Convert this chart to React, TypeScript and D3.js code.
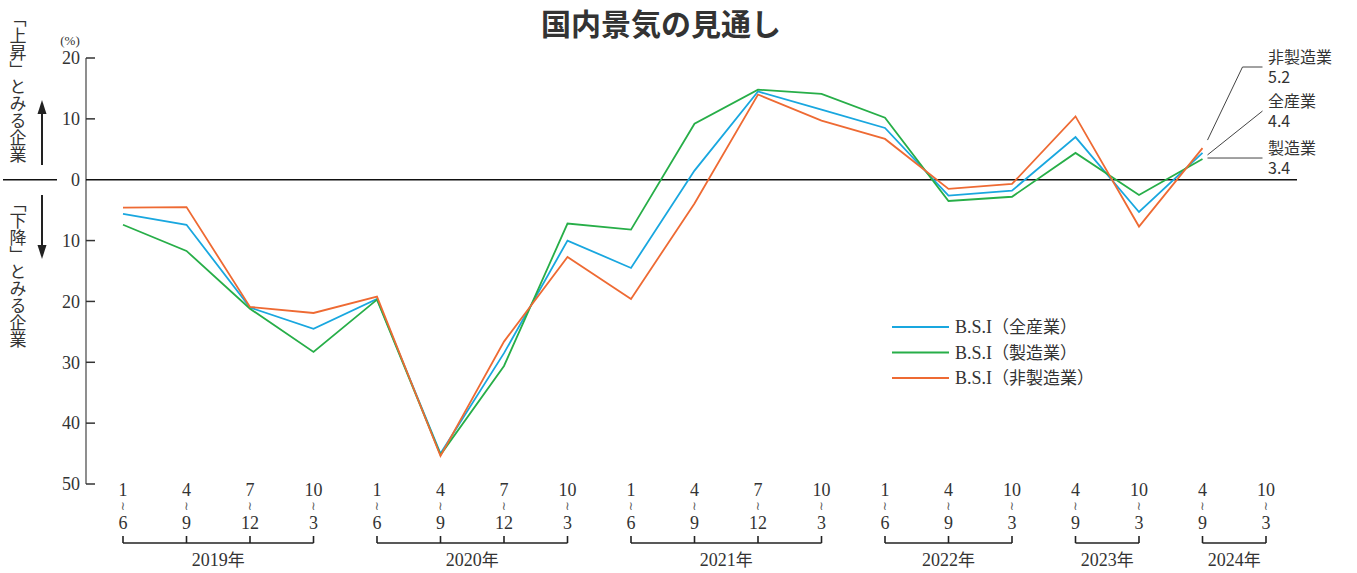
import React from "react";
import * as d3 from "d3";

const width = 1357;
const height = 573;

// 期間ラベル(上段・下段)と年のグループ
const periodTop = ["1", "4", "7", "10", "1", "4", "7", "10", "1", "4", "7", "10", "1", "4", "10", "4", "10", "4", "10"];
const periodBottom = ["6", "9", "12", "3", "6", "9", "12", "3", "6", "9", "12", "3", "6", "9", "3", "9", "3", "9", "3"];
const yearLabels = ["2019年", "2020年", "2021年", "2022年", "2023年", "2024年"];
const yearStart = [0, 4, 8, 12, 15, 17];
const yearEnd = [3, 7, 11, 14, 16, 18];

// B.S.I 値(%)
const allIndustry = [-5.6, -7.4, -21.0, -24.5, -19.6, -45.0, -28.5, -10.0, -14.5, 1.5, 14.5, 11.5, 8.5, -2.6, -1.8, 7.0, -5.3, 4.4];
const manufacturing = [-7.4, -11.7, -21.2, -28.3, -19.7, -45.2, -30.6, -7.2, -8.2, 9.2, 14.8, 14.1, 10.2, -3.5, -2.8, 4.4, -2.5, 3.4];
const nonManufacturing = [-4.6, -4.5, -20.9, -21.9, -19.2, -45.4, -26.6, -12.7, -19.6, -3.9, 14.0, 9.7, 6.7, -1.5, -0.7, 10.4, -7.7, 5.2];

const yTicks = [20, 10, 0, -10, -20, -30, -40, -50];

const series = [
  { name: "B.S.I（全産業）", values: allIndustry, color: "#19a7df" },
  { name: "B.S.I（製造業）", values: manufacturing, color: "#27ae48" },
  { name: "B.S.I（非製造業）", values: nonManufacturing, color: "#ee6a33" },
];

const serif = "'Liberation Serif', 'Times New Roman', serif";
const sans = "'Noto Sans CJK JP', 'Noto Sans', sans-serif";
const textColor = "#333";

const App = () => {
  const xScale = d3
    .scalePoint<number>()
    .domain(d3.range(periodTop.length))
    .range([123, 1266]);

  const yScale = d3.scaleLinear().domain([-50, 20]).range([484, 58]);

  const line = d3
    .line<number>()
    .x((d, i) => xScale(i) as number)
    .y((d) => yScale(d));

  const axisX = 86;
  const last = allIndustry.length - 1;
  const endX = xScale(last) as number;

  return (
    <svg width={width} height={height} style={{ position: "absolute", left: 0, top: 0 }}>
      <rect width={width} height={height} fill="#fff" />

      {/* title */}
      <text x={661} y={35} textAnchor="middle" fontFamily={sans} fontWeight="bold" fontSize={30} fill={textColor}>
        国内景気の見通し
      </text>

      {/* left side labels */}
      <text x={18} y={10} fontFamily={sans} fontSize={17} fill={textColor} style={{ writingMode: "vertical-rl" }}>
        「上昇」とみる企業
      </text>
      <text x={18} y={195} fontFamily={sans} fontSize={17} fill={textColor} style={{ writingMode: "vertical-rl" }}>
        「下降」とみる企業
      </text>
      <line x1={42} x2={42} y1={165} y2={112} stroke="#222" strokeWidth={2} />
      <path d="M42,100 L37.5,114 L46.5,114 Z" fill="#222" />
      <line x1={42} x2={42} y1={195} y2={246} stroke="#222" strokeWidth={2} />
      <path d="M42,259 L37.5,245 L46.5,245 Z" fill="#222" />
      <line x1={3} x2={57} y1={yScale(0)} y2={yScale(0)} stroke="#111" strokeWidth={1.6} />

      {/* y axis */}
      <text x={70} y={45} textAnchor="middle" fontFamily={serif} fontSize={13} fill={textColor}>
        (%)
      </text>
      <line x1={axisX} x2={axisX} y1={yScale(20)} y2={yScale(-50)} stroke="#444" strokeWidth={1.2} />
      {yTicks.map((t) => (
        <g key={t}>
          {t !== 0 && <line x1={axisX} x2={axisX + 9} y1={yScale(t)} y2={yScale(t)} stroke="#333" strokeWidth={1.5} />}
          <text x={80} y={yScale(t)} dy="0.35em" textAnchor="end" fontFamily={serif} fontSize={18} fill={textColor}>
            {Math.abs(t)}
          </text>
        </g>
      ))}
      <line x1={axisX} x2={1297} y1={yScale(0)} y2={yScale(0)} stroke="#111" strokeWidth={1.6} />

      {/* x labels */}
      {periodTop.map((p, i) => (
        <g key={i} fontFamily={serif} fill={textColor} textAnchor="middle">
          <text x={xScale(i)} y={496} fontSize={18}>{p}</text>
          <text x={xScale(i)} y={510} fontSize={12} fill="#555" fontFamily="'DejaVu Sans', sans-serif">≀</text>
          <text x={xScale(i)} y={529} fontSize={18}>{periodBottom[i]}</text>
        </g>
      ))}
      {yearLabels.map((y, k) => {
        const x0 = xScale(yearStart[k]) as number;
        const x1 = xScale(yearEnd[k]) as number;
        return (
          <g key={y}>
            <line x1={x0} x2={x1} y1={543} y2={543} stroke="#222" strokeWidth={1.6} />
            {d3.range(yearStart[k], yearEnd[k] + 1).map((i) => (
              <line key={i} x1={xScale(i)} x2={xScale(i)} y1={543} y2={536} stroke="#222" strokeWidth={1.6} />
            ))}
            <text x={(x0 + x1) / 2} y={566} textAnchor="middle" fontFamily={serif} fontSize={18} fill={textColor}>
              {y.replace("年", "")}
              <tspan fontFamily={sans} fontSize={17}>年</tspan>
            </text>
          </g>
        );
      })}

      {/* lines */}
      {series.map((s) => (
        <path key={s.name} d={line(s.values) || ""} fill="none" stroke={s.color} strokeWidth={1.8} strokeLinejoin="miter" />
      ))}

      {/* legend */}
      {series.map((s, i) => (
        <g key={s.name} transform={`translate(892, ${327 + i * 25.5})`}>
          <line x1={0} x2={57} y1={0} y2={0} stroke={s.color} strokeWidth={2} />
          <text x={63} y={0} dy="0.35em" fontFamily={serif} fontSize={18} fill={textColor}>
            B.S.I
            <tspan fontFamily={sans} fontSize={17}>{s.name.replace("B.S.I", "")}</tspan>
          </text>
        </g>
      ))}

      {/* end annotations */}
      <g stroke="#444" strokeWidth={1} fill="none">
        <polyline points={`${endX + 5},${yScale(nonManufacturing[last]) - 8} ${endX + 40},67 ${endX + 60},67`} />
        <polyline points={`${endX + 5},${yScale(allIndustry[last]) + 2} ${endX + 60},111`} />
        <polyline points={`${endX + 5},${yScale(manufacturing[last]) - 1} ${endX + 60},${yScale(manufacturing[last]) - 1}`} />
      </g>
      <g fontFamily={sans} fontSize={16} fill={textColor}>
        <text x={1268} y={63}>非製造業</text>
        <text x={1268} y={83}>{nonManufacturing[last].toFixed(1)}</text>
        <text x={1268} y={107}>全産業</text>
        <text x={1268} y={127}>{allIndustry[last].toFixed(1)}</text>
        <text x={1268} y={154}>製造業</text>
        <text x={1268} y={174}>{manufacturing[last].toFixed(1)}</text>
      </g>
    </svg>
  );
};

export default App;
